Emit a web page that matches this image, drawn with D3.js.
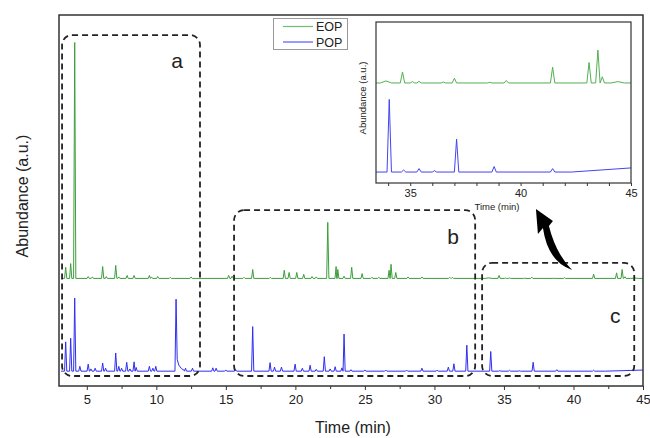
<!DOCTYPE html>
<html lang="en">
<head>
<meta charset="UTF-8">
<title>EOP / POP chromatogram</title>
<script src="https://d3js.org/d3.v7.min.js"></script>
<style>
  body { margin: 0; background: #fff; font-family: "Liberation Sans", Arial, sans-serif; }
  svg text { fill: #222; }
  .tick line { stroke: #333; }
</style>
</head>
<body>
<div id="chart"></div>
<script>
// peaks: [time (min), height (a.u.), left half-width, right half-width]
const eopPeaks = [
  [3.48, 3.0], [3.84, 4.0], [4.13, 63.6], [5.1, 0.5], [5.4, 0.4], [6.14, 3.2], [6.4, 0.5],
  [7.08, 3.5], [7.3, 0.4], [7.9, 0.8], [8.4, 0.8], [9.5, 0.8], [9.65, 0.4], [10.1, 0.5],
  [11.0, 0.3], [12.5, 0.4], [15.2, 0.8], [15.45, 0.6], [16.3, 0.3], [16.93, 2.4], [18.2, 0.3],
  [19.2, 2.2], [19.55, 1.6], [20.1, 1.6], [20.6, 1.1], [21.2, 0.5], [21.5, 0.4], [22.33, 15.1],
  [22.93, 3.2], [23.05, 2.4], [23.5, 0.6], [24.05, 3.0], [24.8, 1.3], [25.5, 0.3], [26.0, 0.3],
  [26.74, 2.2], [26.88, 3.8], [27.22, 1.6], [28.1, 0.4], [29.1, 0.4], [31.1, 0.3], [31.3, 0.3],
  [33.9, 0.15, 0.25, 0.25], [34.65, 0.8], [35.1, 0.1], [35.4, 0.12], [36.5, 0.07], [37.0, 0.35],
  [38.6, 0.05], [39.35, 0.18], [41.45, 1.15], [43.1, 1.5], [43.5, 2.4], [43.7, 0.45],
  [44.4, 0.1, 0.3, 0.3]
];
const popPeaks = [
  [3.48, 7.9], [3.84, 8.9], [4.13, 19.7], [4.5, 1.3], [5.1, 1.9], [5.3, 0.6], [5.6, 0.8],
  [6.14, 2.2], [6.35, 0.8], [7.08, 4.9], [7.3, 1.3], [7.5, 0.8], [7.87, 2.4], [8.1, 0.6],
  [8.4, 2.5], [8.55, 1.0], [9.5, 1.3], [9.75, 0.8], [9.96, 1.3], [11.42, 19.4, 0.08, 0.75],
  [12.1, 0.8], [12.6, 0.8], [14.06, 0.9], [14.3, 0.8], [15.0, 0.3], [15.7, 0.4], [16.93, 12.0],
  [18.18, 2.3], [18.5, 1.1], [19.0, 1.1], [19.98, 1.9], [20.5, 0.8], [21.06, 1.6], [21.5, 0.5],
  [22.08, 3.9], [22.5, 0.6], [22.86, 1.2], [23.35, 0.9], [23.5, 10.0], [24.0, 0.4], [25.0, 0.3],
  [26.5, 0.3], [28.0, 0.3], [29.1, 0.8], [30.2, 0.3], [31.0, 1.1], [31.4, 2.0], [32.33, 7.0],
  [34.05, 5.3], [34.7, 0.15], [35.4, 0.25], [36.1, 0.1], [37.1, 2.4], [38.8, 0.4], [41.45, 0.25]
];
// tailing of the 11.4 min peak
const popTail = [[11.5, 3.2], [11.62, 1.6], [11.8, 0.7], [12.0, 0.25]];
const eopBaseline = [[3.15, 0], [45, 0]];
const popBaseline = [[3.15, 0], [42.3, 0], [45, 0.3]];

const seriesNames = ["EOP", "POP"];
const mainTicks = [5, 10, 15, 20, 25, 30, 35, 40, 45];
const mainMinor = [7.5, 12.5, 17.5, 22.5, 27.5, 32.5, 37.5, 42.5];
const insetTicks = [34, 35, 36, 37, 38, 39, 40, 41, 42, 43, 44, 45];
const insetLabels = [35, 40, 45];

// highlighted regions: [label, t0, t1, top (a.u.), bottom (a.u.)]
const boxes = [
  ["a", 3.22, 13.14, 90.6, -1.3],
  ["b", 15.59, 32.93, 43.4, -1.3],
  ["c", 33.43, 44.37, 29.2, -1.3]
];
const labelPos = [[11.49, 81.7], [31.35, 34.3], [43.0, 13.0]];

const green = "#3c9e3c", blue = "#2e2ef2";

function trace(peaks, extra, baseline, offset, W) {
  const pts = baseline.map(d => [d[0], d[1] + offset])
    .concat(extra.map(d => [d[0], d[1] + offset]));
  peaks.forEach(([t, h, wl = W, wr = W]) => {
    pts.push([t - wl, offset], [t, h + offset], [t + wr, offset]);
  });
  return pts.sort((a, b) => a[0] - b[0]);
}

const width = 650, height = 438;
const svg = d3.select("#chart").append("svg")
  .attr("width", width).attr("height", height);

// ---- main plot
const x = d3.scaleLinear().domain([3, 45]).range([59, 643]);
const y = d3.scaleLinear().domain([-4, 96]).range([386, 15]);

svg.append("clipPath").attr("id", "clipMain").append("rect")
  .attr("x", 59).attr("y", 15).attr("width", 584).attr("height", 371);

const line = d3.line().x(d => x(d[0])).y(d => y(d[1]));
const g = svg.append("g").attr("clip-path", "url(#clipMain)");
g.append("path").attr("d", line(trace(eopPeaks, [], eopBaseline, 25, 0.08)))
  .attr("fill", "none").attr("stroke", green).attr("stroke-width", 1);
g.append("path").attr("d", line(trace(popPeaks, popTail, popBaseline, 0, 0.08)))
  .attr("fill", "none").attr("stroke", blue).attr("stroke-width", 1);

svg.append("g").attr("transform", "translate(0,386)")
  .call(d3.axisBottom(x).tickValues(mainTicks).tickSize(4).tickPadding(5))
  .call(a => a.select(".domain").remove())
  .call(a => a.selectAll("text").attr("font-size", 13).attr("font-family", "Liberation Sans, Arial"));
svg.append("g").attr("transform", "translate(0,386)")
  .call(d3.axisBottom(x).tickValues(mainMinor).tickSize(3).tickFormat(""))
  .call(a => a.select(".domain").remove());

svg.append("rect").attr("x", 59).attr("y", 15).attr("width", 584).attr("height", 371)
  .attr("fill", "none").attr("stroke", "#333").attr("stroke-width", 1.5);

svg.append("text").attr("x", 353).attr("y", 433).attr("text-anchor", "middle")
  .attr("font-size", 16).text("Time (min)");
svg.append("text").attr("transform", "translate(28,196) rotate(-90)")
  .attr("text-anchor", "middle").attr("font-size", 16).text("Abundance (a.u.)");

// dashed regions
boxes.forEach(([lab, t0, t1, top, bot], i) => {
  svg.append("rect").attr("x", x(t0)).attr("y", y(top))
    .attr("width", x(t1) - x(t0)).attr("height", y(bot) - y(top))
    .attr("rx", 10).attr("ry", 10)
    .attr("fill", "none").attr("stroke", "#222").attr("stroke-width", 1.8)
    .attr("stroke-dasharray", "6,4");
  svg.append("text").attr("x", x(labelPos[i][0])).attr("y", y(labelPos[i][1]))
    .attr("text-anchor", "middle").attr("font-size", 21).text(lab);
});

// legend
const lg = svg.append("g");
lg.append("rect").attr("x", 273.5).attr("y", 18.5).attr("width", 74).attr("height", 31)
  .attr("fill", "#fff").attr("stroke", "#999").attr("stroke-width", 1);
seriesNames.forEach((name, i) => {
  const yy = 26.5 + i * 15.5;
  lg.append("line").attr("x1", 283).attr("x2", 313).attr("y1", yy).attr("y2", yy)
    .attr("stroke", i ? "#5858ff" : "#6cbf6c").attr("stroke-width", 1.2);
  lg.append("text").attr("x", 316).attr("y", yy + 4.5).attr("font-size", 12.5).text(name);
});

// curved arrow pointing at the inset
const tail = [x(39.9), y(27.3)], tip = [x(37.3), y(43.7)];
const [tx, ty] = tip;
const arrow = d3.path();
arrow.moveTo(tail[0], tail[1]);
arrow.quadraticCurveTo(tx + 12, ty + 53, tx + 7, ty + 19);
arrow.lineTo(tx + 2, ty + 25);
arrow.lineTo(tx, ty);
arrow.lineTo(tx + 17, ty + 12);
arrow.lineTo(tx + 13, ty + 17);
arrow.quadraticCurveTo(tx + 20, ty + 45, tail[0], tail[1]);
arrow.closePath();
svg.append("path").attr("d", arrow.toString()).attr("fill", "#000");

// ---- inset
const xi = d3.scaleLinear().domain([33.45, 45]).range([376, 631]);
const yi = d3.scaleLinear().domain([-0.8, 10.95]).range([183, 22]);
const inEop = eopPeaks.filter(d => d[0] > 33);
const inPop = popPeaks.filter(d => d[0] > 33);

svg.append("rect").attr("x", 376).attr("y", 22).attr("width", 255).attr("height", 161)
  .attr("fill", "#fff");
svg.append("clipPath").attr("id", "clipInset").append("rect")
  .attr("x", 376).attr("y", 22).attr("width", 255).attr("height", 161);
const lineI = d3.line().x(d => xi(d[0])).y(d => yi(d[1]));
const gi = svg.append("g").attr("clip-path", "url(#clipInset)");
gi.append("path").attr("d", lineI(trace(inEop, [], eopBaseline, 6.5, 0.1)))
  .attr("fill", "none").attr("stroke", "#52b052").attr("stroke-width", 1);
gi.append("path").attr("d", lineI(trace(inPop, [], popBaseline, 0, 0.1)))
  .attr("fill", "none").attr("stroke", "#4444f0").attr("stroke-width", 1);

svg.append("g").attr("transform", "translate(0,183)")
  .call(d3.axisBottom(xi).tickValues(insetTicks).tickSize(3).tickPadding(3)
    .tickFormat(d => insetLabels.includes(d) ? d : ""))
  .call(a => a.select(".domain").remove())
  .call(a => a.selectAll("text").attr("font-size", 11).attr("font-family", "Liberation Sans, Arial"));
svg.append("rect").attr("x", 376).attr("y", 22).attr("width", 255).attr("height", 161)
  .attr("fill", "none").attr("stroke", "#333").attr("stroke-width", 1.2);
svg.append("text").attr("x", 497).attr("y", 210).attr("text-anchor", "middle")
  .attr("font-size", 9.5).text("Time (min)");
svg.append("text").attr("transform", "translate(366,98) rotate(-90)")
  .attr("text-anchor", "middle").attr("font-size", 9.5).text("Abundance (a.u.)");
</script>
</body>
</html>
